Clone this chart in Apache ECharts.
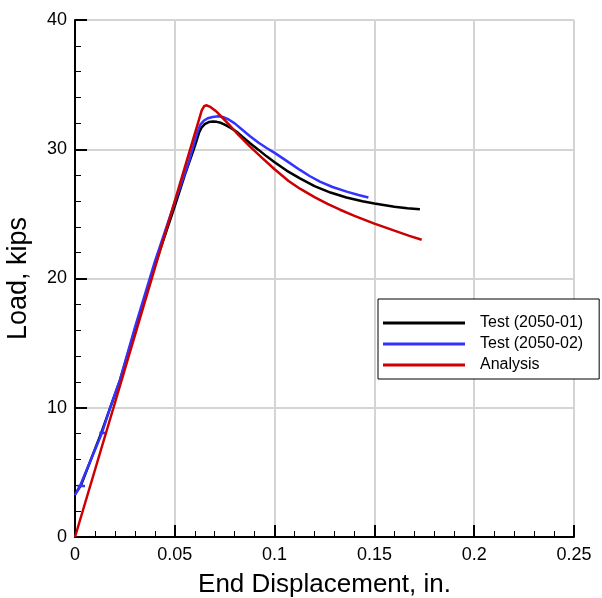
<!DOCTYPE html>
<html>
<head>
<meta charset="utf-8">
<script src="https://cdn.jsdelivr.net/npm/echarts@6/dist/echarts.min.js"></script>
<style>html,body{margin:0;padding:0;background:#fff}#c{width:602px;height:598px}</style>
</head>
<body>
<div id="c"></div>
<script>
const seriesNames = ['Test (2050-01)', 'Test (2050-02)', 'Analysis'];
const test01 = [[0.0,3.3],[0.003,4.0],[0.013,8.0],[0.0225,12.1],[0.03,16.0],[0.04,21.0],[0.05,25.6],[0.055,28.0],[0.0595,30.0],[0.061,30.7],[0.0622,31.3],[0.0635,31.7],[0.065,31.95],[0.067,32.1],[0.069,32.15],[0.071,32.12],[0.073,32.05],[0.075,31.9],[0.078,31.65],[0.081,31.35],[0.084,30.95],[0.0877,30.46],[0.092,29.95],[0.096,29.45],[0.1,29.0],[0.106,28.35],[0.1127,27.75],[0.12,27.15],[0.128,26.65],[0.136,26.27],[0.144,25.98],[0.15,25.8],[0.16,25.55],[0.1665,25.43],[0.1728,25.35]];
const test02 = [[0.0,3.25],[0.0025,3.95],[0.005,3.95],[0.0012,3.95],[0.0025,3.95],[0.0135,8.05],[0.015,8.05],[0.0122,8.05],[0.0135,8.05],[0.0175,9.96],[0.0225,12.15],[0.03,16.2],[0.04,21.3],[0.05,25.9],[0.057,29.0],[0.06,30.6],[0.0615,31.4],[0.0628,31.9],[0.0645,32.2],[0.0665,32.4],[0.069,32.5],[0.0718,32.55],[0.074,32.5],[0.077,32.3],[0.08,32.0],[0.0835,31.55],[0.0877,31.0],[0.092,30.5],[0.096,30.1],[0.1002,29.7],[0.106,29.1],[0.1127,28.4],[0.1175,27.93],[0.1227,27.5],[0.129,27.08],[0.1361,26.72],[0.142,26.46],[0.147,26.27]];
const analysis = [[0,0],[0.0192,9.96],[0.04,20.8],[0.0635,33.0],[0.0648,33.35],[0.066,33.4],[0.068,33.25],[0.071,32.9],[0.076,32.1],[0.082,31.1],[0.0877,30.2],[0.094,29.3],[0.1,28.45],[0.107,27.55],[0.1127,26.95],[0.12,26.3],[0.1265,25.78],[0.1328,25.32],[0.14,24.85],[0.15,24.25],[0.16,23.7],[0.1675,23.3],[0.1737,23.0]];
const colors = ['#000000', '#3333ff', '#cc0000'];

const FONT = 'Liberation Sans, Arial, Helvetica, sans-serif';
const chart = echarts.init(document.getElementById('c'), null, {renderer: 'canvas'});
const axisCommon = {
  axisLine: {show: true, onZero: false, lineStyle: {color: '#000', width: 2}},
  axisTick: {show: true, inside: true, length: 12, lineStyle: {color: '#000', width: 2}},
  minorTick: {show: true, splitNumber: 5, length: 6, lineStyle: {color: '#000', width: 1}},
  splitLine: {show: true, lineStyle: {color: '#d4d4d4', width: 2}},
  axisLabel: {color: '#000', fontSize: 18, fontFamily: FONT},
  nameTextStyle: {color: '#000', fontSize: 26, fontFamily: FONT}
};
chart.setOption({
  animation: false,
  backgroundColor: '#fff',
  grid: {left: 75, right: 28, top: 20, bottom: 61, containLabel: false, outerBoundsMode: 'none'},
  xAxis: Object.assign({}, axisCommon, {
    type: 'value', min: 0, max: 0.25, interval: 0.05,
    name: 'End Displacement, in.', nameLocation: 'middle', nameGap: 35,
    axisLabel: Object.assign({}, axisCommon.axisLabel, {margin: 9})
  }),
  yAxis: Object.assign({}, axisCommon, {
    type: 'value', min: 0, max: 40, interval: 10,
    name: 'Load, kips', nameLocation: 'middle', nameGap: 43,
    nameTextStyle: Object.assign({}, axisCommon.nameTextStyle, {fontSize: 27}),
    axisLabel: Object.assign({}, axisCommon.axisLabel, {margin: 8})
  }),
  legend: {
    show: true, orient: 'vertical', left: 378, top: 299,
    backgroundColor: '#fff', borderColor: '#000', borderWidth: 1,
    padding: [16, 16, 6, 5],
    icon: 'rect',
    itemWidth: 82, itemHeight: 3, itemGap: 5,
    textStyle: {color: '#000', fontSize: 16, fontFamily: FONT, padding: [0, 0, 0, 10]},
    data: seriesNames
  },
  series: [
    {name: seriesNames[0], type: 'line', data: test01, symbol: 'none', color: colors[0], lineStyle: {color: colors[0], width: 2.5}},
    {name: seriesNames[1], type: 'line', data: test02, symbol: 'none', color: colors[1], lineStyle: {color: colors[1], width: 2.5}},
    {name: seriesNames[2], type: 'line', data: analysis, symbol: 'none', color: colors[2], lineStyle: {color: colors[2], width: 2.5}}
  ]
});
</script>
</body>
</html>
